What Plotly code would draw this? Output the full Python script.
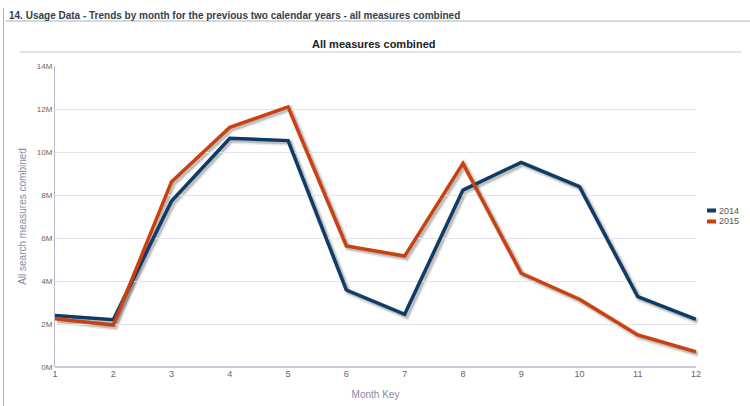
import plotly.graph_objects as go

months = [1, 2, 3, 4, 5, 6, 7, 8, 9, 10, 11, 12]
series_names = ["2014", "2015"]
values_2014 = [2.4e6, 2.2e6, 7.72e6, 10.64e6, 10.53e6, 3.58e6, 2.45e6, 8.23e6, 9.52e6, 8.39e6, 3.27e6, 2.22e6]
values_2015 = [2.25e6, 1.95e6, 8.62e6, 11.15e6, 12.1e6, 5.63e6, 5.16e6, 9.47e6, 4.36e6, 3.15e6, 1.49e6, 0.71e6]
ytick_vals = [0, 2e6, 4e6, 6e6, 8e6, 10e6, 12e6, 14e6]
ytick_text = ["0M", "2M", "4M", "6M", "8M", "10M", "12M", "14M"]
colors = ["#0f3b69", "#c9410f"]

# pixel geometry
L, T = 55, 66
W, H = 643, 303
PW, PH = 641, 301
def px(x):
    return (x - L) / W
def py(y):
    return (T + H - y) / H

main_dom_x = [0, PW / W]
main_dom_y = [(H - PH) / H, 1]

fig = go.Figure()
# drop shadows on a subplot offset by 2px right/down
for vals in (values_2014, values_2015):
    fig.add_trace(go.Scatter(x=months, y=vals, mode="lines", showlegend=False, hoverinfo="skip",
                             xaxis="x", yaxis="y",
                             line=dict(color="rgba(40,40,40,0.10)", width=7)))
    fig.add_trace(go.Scatter(x=months, y=vals, mode="lines", showlegend=False, hoverinfo="skip",
                             xaxis="x", yaxis="y",
                             line=dict(color="rgba(40,40,40,0.22)", width=4)))
for name, vals, c in zip(series_names, (values_2014, values_2015), colors):
    fig.add_trace(go.Scatter(x=months, y=vals, mode="lines", name=name, showlegend=False,
                             xaxis="x2", yaxis="y2",
                             line=dict(color=c, width=3.5)))

font_fam = "Liberation Sans, Arial, sans-serif"
shapes = [
    dict(type="line", xref="paper", yref="paper", x0=0, x1=PW / W, y0=py(367), y1=py(367),
         line=dict(color="#c8c8d8", width=2)),
    dict(type="line", xref="paper", yref="paper", x0=px(6), x1=px(751), y0=py(21), y1=py(21),
         line=dict(color="#b0b0b8", width=1)),
    dict(type="line", xref="paper", yref="paper", x0=px(3.5), x1=px(3.5), y0=py(8), y1=py(407),
         line=dict(color="#b0b0b0", width=1)),
    dict(type="line", xref="paper", yref="paper", x0=px(20), x1=px(741), y0=py(52), y1=py(52),
         line=dict(color="#d8d8e0", width=1.5)),
]
annotations = [
    dict(text="<b>14. Usage Data - Trends by month for the previous two calendar years - all measures combined</b>",
         xref="paper", yref="paper", x=px(7), y=py(15), xanchor="left", yanchor="middle",
         showarrow=False, font=dict(size=10, color="#33414e", family=font_fam)),
    dict(text="<b>All measures combined</b>", xref="paper", yref="paper", x=px(374), y=py(44),
         xanchor="center", yanchor="middle", showarrow=False, font=dict(size=11, color="#222")),
]
# legend (swatch + label)
for i, (name, c) in enumerate(zip(series_names, colors)):
    yc = 210.5 + i * 11
    shapes.append(dict(type="rect", xref="paper", yref="paper", x0=px(707), x1=px(716),
                       y0=py(yc - 2), y1=py(yc + 2), line=dict(width=0), fillcolor=c))
    annotations.append(dict(text=name, xref="paper", yref="paper", x=px(717), y=py(yc),
                            xanchor="left", yanchor="middle", showarrow=False,
                            font=dict(size=9, color="#555")))

fig.update_layout(
    width=750, height=406,
    margin=dict(l=L, r=750 - L - W, t=T, b=406 - T - H, autoexpand=False),
    paper_bgcolor="white", plot_bgcolor="rgba(0,0,0,0)",
    showlegend=False,
    font=dict(family=font_fam, size=9, color="#555"),
    xaxis=dict(domain=[(W - PW) / W, 1], range=[1, 12], visible=False, anchor="y"),
    yaxis=dict(domain=[0, PH / H], range=[0, 14e6], visible=False, anchor="x"),
    xaxis2=dict(domain=main_dom_x, range=[1, 12], tickvals=months, showgrid=False, zeroline=False,
                anchor="y2", showline=False, ticks="", tickfont=dict(size=9, color="#666"), automargin=False,
                title=dict(text="Month Key", font=dict(size=10, color="#8888a8"), standoff=12)),
    yaxis2=dict(domain=main_dom_y, range=[0, 14e6], tickvals=ytick_vals, ticktext=ytick_text,
                anchor="x2", showgrid=True, gridcolor="#e3e3ec", gridwidth=1, zeroline=False,
                showline=True, linecolor="#b8b8c8", linewidth=1, ticks="", automargin=False,
                tickfont=dict(size=8, color="#666"),
                title=dict(text="All search measures combined", font=dict(size=10, color="#8888a8"), standoff=8)),
    shapes=shapes,
    annotations=annotations,
)
fig.write_html("out.html", config={"displayModeBar": False},
               post_script="document.body.style.margin='0px';")
